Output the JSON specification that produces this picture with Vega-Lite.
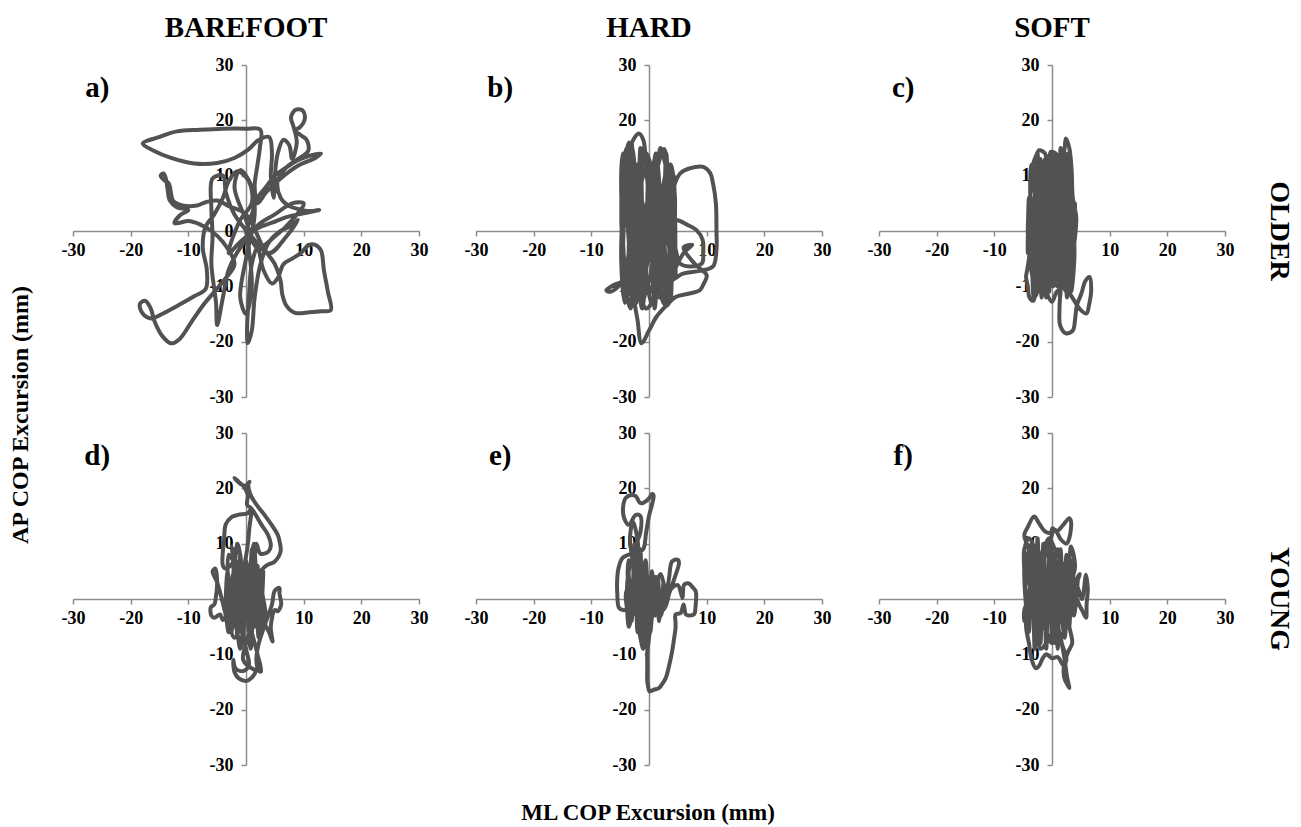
{
"$schema": "https://vega.github.io/schema/vega-lite/v6.json",
"background": "white",
"padding": {"left": 8, "top": 14, "right": 8, "bottom": 6},
"config": {"view": {"stroke": null}},
"data": {"values": [
{"p":"a","lab":"a)"},{"p":"b","lab":"b)"},{"p":"c","lab":"c)"},{"p":"d","lab":"d)"},{"p":"e","lab":"e)"},{"p":"f","lab":"f)"},
{"p":"a","x":0,"y":0},{"p":"a","x":1,"y":3},{"p":"a","x":2,"y":6},{"p":"a","x":3.5,"y":8},{"p":"a","x":5,"y":10},{"p":"a","x":7,"y":11.5},{"p":"a","x":9,"y":12.8},{"p":"a","x":11,"y":13.6},{"p":"a","x":13,"y":14},{"p":"a","x":12,"y":13.2},{"p":"a","x":9,"y":11.8},{"p":"a","x":6,"y":9.5},{"p":"a","x":3.5,"y":7},{"p":"a","x":2,"y":5},
{"p":"a","x":1.5,"y":8},{"p":"a","x":2,"y":12},{"p":"a","x":2.4,"y":15},{"p":"a","x":2.5,"y":18.3},{"p":"a","x":0,"y":18.5},{"p":"a","x":-4,"y":18.5},{"p":"a","x":-8,"y":18.3},{"p":"a","x":-12,"y":18},{"p":"a","x":-15,"y":17},{"p":"a","x":-17.9,"y":15.8},{"p":"a","x":-16,"y":14.5},{"p":"a","x":-13,"y":13.2},{"p":"a","x":-9,"y":12.2},{"p":"a","x":-5,"y":12.3},{"p":"a","x":-2,"y":13.2},{"p":"a","x":0.5,"y":14.8},{"p":"a","x":2,"y":16.3},{"p":"a","x":4,"y":17},
{"p":"a","x":4.5,"y":14},{"p":"a","x":4.3,"y":10},{"p":"a","x":4.8,"y":6},{"p":"a","x":5,"y":10},{"p":"a","x":5.5,"y":14},{"p":"a","x":6.5,"y":16.5},{"p":"a","x":7.5,"y":15.5},{"p":"a","x":8,"y":13},{"p":"a","x":8.8,"y":16},{"p":"a","x":8.2,"y":19},{"p":"a","x":7.8,"y":20.5},{"p":"a","x":8.6,"y":21.9},{"p":"a","x":9.8,"y":21.8},{"p":"a","x":10.2,"y":20.3},{"p":"a","x":9.3,"y":18.7},{"p":"a","x":8.5,"y":18.2},{"p":"a","x":9.5,"y":17.3},{"p":"a","x":10.5,"y":16.5},{"p":"a","x":10.8,"y":14.5},{"p":"a","x":9,"y":13},{"p":"a","x":7,"y":11.5},{"p":"a","x":5.5,"y":9},
{"p":"a","x":6,"y":6},{"p":"a","x":7.5,"y":4.5},{"p":"a","x":9,"y":4},{"p":"a","x":11,"y":3.6},{"p":"a","x":12.7,"y":3.8},{"p":"a","x":10,"y":3.2},{"p":"a","x":7,"y":2.5},{"p":"a","x":4.5,"y":1.5},{"p":"a","x":2,"y":0.5},
{"p":"a","x":-1,"y":-2},{"p":"a","x":-3,"y":-4},{"p":"a","x":-1,"y":2},{"p":"a","x":1,"y":5},{"p":"a","x":0.5,"y":9},{"p":"a","x":-1.5,"y":10.8},{"p":"a","x":-3,"y":9},{"p":"a","x":-4,"y":6},{"p":"a","x":-5.5,"y":3},{"p":"a","x":-7,"y":0.8},{"p":"a","x":-7.5,"y":-3},{"p":"a","x":-6.8,"y":-7},{"p":"a","x":-7,"y":-10.5},
{"p":"a","x":-9,"y":-11.8},{"p":"a","x":-11.5,"y":-13.3},{"p":"a","x":-14,"y":-14.7},{"p":"a","x":-16.5,"y":-15.8},{"p":"a","x":-18,"y":-14.8},{"p":"a","x":-18.4,"y":-13.2},{"p":"a","x":-17.5,"y":-12.6},{"p":"a","x":-16.6,"y":-13.8},{"p":"a","x":-15.8,"y":-16.5},{"p":"a","x":-14.5,"y":-19},{"p":"a","x":-13,"y":-20.3},{"p":"a","x":-11.5,"y":-19.5},{"p":"a","x":-9.5,"y":-16.5},{"p":"a","x":-7.5,"y":-13.5},{"p":"a","x":-5.5,"y":-11},{"p":"a","x":-3.5,"y":-8.5},{"p":"a","x":-2,"y":-6},
{"p":"a","x":-4,"y":-2},{"p":"a","x":-6,"y":0},{"p":"a","x":-8,"y":1.2},{"p":"a","x":-10,"y":1.8},{"p":"a","x":-11.5,"y":1.5},{"p":"a","x":-12.4,"y":1.4},{"p":"a","x":-11.5,"y":2.8},{"p":"a","x":-10,"y":3.8},{"p":"a","x":-12,"y":4.3},{"p":"a","x":-13.2,"y":5.5},{"p":"a","x":-13.6,"y":7.5},{"p":"a","x":-13.9,"y":9.5},{"p":"a","x":-14.3,"y":10.4},{"p":"a","x":-14.8,"y":10},{"p":"a","x":-14.2,"y":9.2},{"p":"a","x":-13.4,"y":8.6},{"p":"a","x":-12.6,"y":5.4},{"p":"a","x":-11,"y":4.6},{"p":"a","x":-8.5,"y":4.6},{"p":"a","x":-7,"y":5.2},{"p":"a","x":-5,"y":5.5},{"p":"a","x":-3,"y":4.5},{"p":"a","x":0,"y":3},
{"p":"a","x":3,"y":-3},{"p":"a","x":5,"y":-6},{"p":"a","x":6,"y":-9},{"p":"a","x":6.3,"y":-11.5},{"p":"a","x":7,"y":-13.5},{"p":"a","x":8.5,"y":-14.8},{"p":"a","x":11,"y":-14.7},{"p":"a","x":13,"y":-14.5},{"p":"a","x":14.7,"y":-14.3},{"p":"a","x":14.2,"y":-11},{"p":"a","x":13.5,"y":-7},{"p":"a","x":13,"y":-3.5},{"p":"a","x":12,"y":-2.5},{"p":"a","x":10.8,"y":-2.6},{"p":"a","x":9.5,"y":-4},{"p":"a","x":8,"y":-5},{"p":"a","x":6.5,"y":-6},{"p":"a","x":5.5,"y":-8.5},{"p":"a","x":4.5,"y":-9.5},{"p":"a","x":3,"y":-7},{"p":"a","x":2,"y":-3},
{"p":"a","x":1,"y":-6},{"p":"a","x":0.5,"y":-12},{"p":"a","x":0.2,"y":-17},{"p":"a","x":0.3,"y":-20.3},{"p":"a","x":1,"y":-18},{"p":"a","x":1.5,"y":-12},{"p":"a","x":2.5,"y":-6},{"p":"a","x":4,"y":-2},{"p":"a","x":6,"y":0},{"p":"a","x":8,"y":1},{"p":"a","x":9,"y":2},
{"p":"a","x":7,"y":-1},{"p":"a","x":4,"y":-4},{"p":"a","x":1,"y":-1},{"p":"a","x":-2,"y":3},{"p":"a","x":-3.5,"y":7},{"p":"a","x":-4,"y":10},{"p":"a","x":-5.8,"y":9.5},{"p":"a","x":-6,"y":4},{"p":"a","x":-5.8,"y":-1},{"p":"a","x":-6,"y":-6},{"p":"a","x":-5.2,"y":-13},{"p":"a","x":-5,"y":-17},{"p":"a","x":-4,"y":-12},{"p":"a","x":-3,"y":-7},{"p":"a","x":-1,"y":-3},{"p":"a","x":2,"y":1},{"p":"a","x":5,"y":3},{"p":"a","x":8,"y":5},{"p":"a","x":10,"y":5},{"p":"a","x":8,"y":2},{"p":"a","x":5,"y":-1},{"p":"a","x":2,"y":-3},{"p":"a","x":0,"y":2},{"p":"a","x":-2,"y":8},{"p":"a","x":-1,"y":11},{"p":"a","x":1,"y":8},{"p":"a","x":1.5,"y":3},{"p":"a","x":0,"y":-5},{"p":"a","x":-1,"y":-12},{"p":"a","x":0,"y":-15},{"p":"a","x":1,"y":-10},{"p":"a","x":0,"y":0},

{"p":"b","x":0,"y":0},{"p":"b","x":-2,"y":5},{"p":"b","x":-3.5,"y":10},{"p":"b","x":-4,"y":14},{"p":"b","x":-3,"y":16},{"p":"b","x":-1.8,"y":17.6},{"p":"b","x":-1,"y":16.5},{"p":"b","x":-0.5,"y":12},{"p":"b","x":0,"y":6},{"p":"b","x":1,"y":0},{"p":"b","x":2,"y":-6},{"p":"b","x":3,"y":-10},{"p":"b","x":3.5,"y":-6},{"p":"b","x":3.8,"y":2},{"p":"b","x":3.6,"y":8},{"p":"b","x":2.5,"y":13.4},{"p":"b","x":2,"y":15},{"p":"b","x":1.6,"y":13},{"p":"b","x":1,"y":8},{"p":"b","x":0,"y":2},{"p":"b","x":-1,"y":-4},{"p":"b","x":-2.5,"y":-10},{"p":"b","x":-3.5,"y":-13},{"p":"b","x":-4.2,"y":-10},{"p":"b","x":-4.5,"y":-4},{"p":"b","x":-4.8,"y":2},{"p":"b","x":-4.6,"y":8},{"p":"b","x":-4,"y":12},{"p":"b","x":-3,"y":15},{"p":"b","x":-2.5,"y":12},{"p":"b","x":-2,"y":6},{"p":"b","x":-1.5,"y":-1},{"p":"b","x":-0.5,"y":-8},{"p":"b","x":0.5,"y":-13},{"p":"b","x":1.5,"y":-10},{"p":"b","x":2.5,"y":-4},{"p":"b","x":3.5,"y":3},{"p":"b","x":4.5,"y":8.6},
{"p":"b","x":5.5,"y":10.5},{"p":"b","x":7,"y":11.3},{"p":"b","x":9.4,"y":11.6},{"p":"b","x":10.6,"y":10.5},{"p":"b","x":11.1,"y":8.6},{"p":"b","x":11.6,"y":5},{"p":"b","x":11.7,"y":0},{"p":"b","x":11.7,"y":-3.4},{"p":"b","x":11.1,"y":-6.4},{"p":"b","x":8.8,"y":-7.2},{"p":"b","x":5.9,"y":-7.7},{"p":"b","x":3.6,"y":-8.9},{"p":"b","x":2,"y":-7},{"p":"b","x":1,"y":-3},{"p":"b","x":2.5,"y":0.5},{"p":"b","x":4.7,"y":2},{"p":"b","x":6.5,"y":1.2},{"p":"b","x":8.2,"y":0.2},{"p":"b","x":9.3,"y":-1.6},{"p":"b","x":9.4,"y":-4},{"p":"b","x":9.2,"y":-5.8},{"p":"b","x":7,"y":-6.4},{"p":"b","x":5.3,"y":-5.8},{"p":"b","x":4.5,"y":-3},
{"p":"b","x":3,"y":-1},{"p":"b","x":1.5,"y":5},{"p":"b","x":0.5,"y":11},{"p":"b","x":-0.5,"y":14},{"p":"b","x":-1.5,"y":10},{"p":"b","x":-2.5,"y":3},{"p":"b","x":-3.5,"y":-4},{"p":"b","x":-4.5,"y":-9},{"p":"b","x":-5.5,"y":-9.5},{"p":"b","x":-6.5,"y":-10},{"p":"b","x":-7.4,"y":-10.7},{"p":"b","x":-6.8,"y":-11},{"p":"b","x":-5.5,"y":-10.2},{"p":"b","x":-4.2,"y":-8.5},{"p":"b","x":-3,"y":-3},{"p":"b","x":-2,"y":4},{"p":"b","x":-1,"y":10},{"p":"b","x":0,"y":12},{"p":"b","x":1,"y":6},{"p":"b","x":2,"y":-2},{"p":"b","x":3,"y":-9},{"p":"b","x":3.8,"y":-12},{"p":"b","x":3,"y":-13.5},{"p":"b","x":1.8,"y":-11},{"p":"b","x":0.5,"y":-5},{"p":"b","x":-0.5,"y":1},{"p":"b","x":-1.5,"y":7},{"p":"b","x":-2.8,"y":12},{"p":"b","x":-3.8,"y":15},{"p":"b","x":-4.3,"y":13},{"p":"b","x":-4,"y":6},{"p":"b","x":-3.5,"y":-2},{"p":"b","x":-3,"y":-9},{"p":"b","x":-2.5,"y":-13},{"p":"b","x":-2,"y":-16},{"p":"b","x":-1.3,"y":-20.3},{"p":"b","x":0,"y":-18},{"p":"b","x":1.3,"y":-15.5},{"p":"b","x":3,"y":-13.5},{"p":"b","x":4.7,"y":-11.9},{"p":"b","x":7,"y":-11.3},{"p":"b","x":8.8,"y":-10.7},{"p":"b","x":9.5,"y":-9.5},{"p":"b","x":10,"y":-8},
{"p":"b","x":8,"y":-6},{"p":"b","x":6,"y":-3},{"p":"b","x":7.5,"y":-2.5},{"p":"b","x":6,"y":-4},{"p":"b","x":4,"y":-8},{"p":"b","x":2,"y":-12},{"p":"b","x":0,"y":-10},{"p":"b","x":-1,"y":-4},{"p":"b","x":0,"y":3},{"p":"b","x":1,"y":9},{"p":"b","x":2,"y":13.5},{"p":"b","x":2.6,"y":14.8},{"p":"b","x":3.2,"y":12},{"p":"b","x":3.5,"y":6},{"p":"b","x":3,"y":0},{"p":"b","x":2.2,"y":-6},{"p":"b","x":1,"y":-12},{"p":"b","x":-0.5,"y":-14},{"p":"b","x":-2,"y":-8},{"p":"b","x":-3,"y":0},{"p":"b","x":-3.8,"y":6},{"p":"b","x":-4.5,"y":10},{"p":"b","x":-4.8,"y":4},{"p":"b","x":-4.5,"y":-3},{"p":"b","x":-3.8,"y":-12},{"p":"b","x":-3.2,"y":-14},{"p":"b","x":-2.5,"y":-10},{"p":"b","x":-1.5,"y":-3},{"p":"b","x":-0.5,"y":4},{"p":"b","x":0.5,"y":10},{"p":"b","x":1,"y":13},{"p":"b","x":1.5,"y":9},{"p":"b","x":2.5,"y":2},{"p":"b","x":3.5,"y":-3},{"p":"b","x":4.2,"y":-8},{"p":"b","x":4.5,"y":-4},{"p":"b","x":4.5,"y":3},{"p":"b","x":4,"y":9},{"p":"b","x":3.5,"y":12},{"p":"b","x":2.8,"y":10},{"p":"b","x":2,"y":4},{"p":"b","x":1,"y":-3},{"p":"b","x":0,"y":-9},{"p":"b","x":-1,"y":-12},{"p":"b","x":-2,"y":-6},{"p":"b","x":-2.8,"y":1},{"p":"b","x":-3.5,"y":8},{"p":"b","x":-4,"y":11},{"p":"b","x":-3.2,"y":5},{"p":"b","x":-2.5,"y":-2},{"p":"b","x":-1.5,"y":-8},{"p":"b","x":0,"y":-5},{"p":"b","x":0,"y":0},
{"p":"b","x":-4.5,"y":14},{"p":"b","x":-3.8,"y":-12},{"p":"b","x":-3,"y":16},{"p":"b","x":-2.2,"y":-13},{"p":"b","x":-1.5,"y":15},{"p":"b","x":-0.8,"y":-12},{"p":"b","x":0,"y":13},{"p":"b","x":0.8,"y":-11},{"p":"b","x":1.5,"y":12},{"p":"b","x":2.2,"y":-10},{"p":"b","x":3,"y":14},{"p":"b","x":3.8,"y":-12},{"p":"b","x":4.3,"y":10},{"p":"b","x":4.6,"y":-8},{"p":"b","x":4,"y":4},{"p":"b","x":3,"y":-13},{"p":"b","x":2,"y":8},{"p":"b","x":1,"y":-14},{"p":"b","x":0,"y":10},{"p":"b","x":-1,"y":-13},{"p":"b","x":-2,"y":12},{"p":"b","x":-3,"y":-12},{"p":"b","x":-4,"y":9},{"p":"b","x":-4.6,"y":-6},{"p":"b","x":-4.2,"y":12},{"p":"b","x":-3.5,"y":16},{"p":"b","x":-2.8,"y":8},{"p":"b","x":-2,"y":-6},{"p":"b","x":-1.2,"y":-14},{"p":"b","x":-0.4,"y":-6},{"p":"b","x":0.4,"y":6},{"p":"b","x":1.2,"y":14},{"p":"b","x":2,"y":6},{"p":"b","x":2.8,"y":-4},{"p":"b","x":3.6,"y":-12},{"p":"b","x":4.2,"y":-4},{"p":"b","x":4.5,"y":6},{"p":"b","x":3.8,"y":12},{"p":"b","x":3,"y":6},{"p":"b","x":2.2,"y":-3},{"p":"b","x":1.4,"y":-11},{"p":"b","x":0.6,"y":-3},{"p":"b","x":-0.2,"y":8},{"p":"b","x":-1,"y":15},{"p":"b","x":-1.8,"y":9},{"p":"b","x":-2.6,"y":0},{"p":"b","x":-3.4,"y":-8},{"p":"b","x":-4.2,"y":-13},{"p":"b","x":-4.8,"y":-6},{"p":"b","x":-4.6,"y":3},{"p":"b","x":-3.9,"y":11},{"p":"b","x":-3.1,"y":4},{"p":"b","x":-2.3,"y":-4},{"p":"b","x":-1.5,"y":-10},{"p":"b","x":-0.7,"y":-2},{"p":"b","x":0.1,"y":7},{"p":"b","x":0.9,"y":1},{"p":"b","x":1.7,"y":-7},{"p":"b","x":2.5,"y":-13},{"p":"b","x":3.3,"y":-7},{"p":"b","x":4.1,"y":1},{"p":"b","x":4.4,"y":9},

{"p":"c","x":0,"y":0},{"p":"c","x":-2,"y":4},{"p":"c","x":-3,"y":8},{"p":"c","x":-3.5,"y":11},{"p":"c","x":-2.8,"y":13.5},{"p":"c","x":-2.2,"y":14.6},{"p":"c","x":-1.2,"y":14},{"p":"c","x":-0.8,"y":10},{"p":"c","x":-0.2,"y":14.3},{"p":"c","x":0.8,"y":13.8},{"p":"c","x":1.2,"y":9},{"p":"c","x":1.8,"y":12},{"p":"c","x":2.2,"y":15},{"p":"c","x":2.4,"y":16.7},{"p":"c","x":3,"y":15},{"p":"c","x":3.4,"y":11},{"p":"c","x":3.6,"y":6},{"p":"c","x":4.2,"y":2.5},{"p":"c","x":4,"y":-1},{"p":"c","x":3.5,"y":-5},{"p":"c","x":3,"y":-9},{"p":"c","x":2.5,"y":-11},{"p":"c","x":1.5,"y":-8},{"p":"c","x":0.5,"y":-3},{"p":"c","x":-0.5,"y":2},{"p":"c","x":-1.5,"y":8},{"p":"c","x":-2.5,"y":10},{"p":"c","x":-3.5,"y":8},{"p":"c","x":-4,"y":4},{"p":"c","x":-4.2,"y":0},{"p":"c","x":-3.9,"y":-4},{"p":"c","x":-4.3,"y":-7},{"p":"c","x":-4.5,"y":-8.3},{"p":"c","x":-4.2,"y":-10},{"p":"c","x":-3.9,"y":-12},{"p":"c","x":-3.2,"y":-12.6},{"p":"c","x":-2.8,"y":-10},{"p":"c","x":-2,"y":-7},{"p":"c","x":-1,"y":-11},{"p":"c","x":0,"y":-12.8},{"p":"c","x":0.8,"y":-11},{"p":"c","x":1.3,"y":-10.7},{"p":"c","x":1.3,"y":-14},{"p":"c","x":1.4,"y":-17},{"p":"c","x":2.4,"y":-18.5},{"p":"c","x":3.6,"y":-18},{"p":"c","x":4,"y":-16},{"p":"c","x":4.3,"y":-13.5},{"p":"c","x":5.1,"y":-11.3},{"p":"c","x":5.8,"y":-9},{"p":"c","x":6.5,"y":-8.3},{"p":"c","x":6.8,"y":-10.5},{"p":"c","x":6.4,"y":-13.5},{"p":"c","x":6,"y":-14.9},{"p":"c","x":5,"y":-14.3},{"p":"c","x":3.8,"y":-12.5},{"p":"c","x":3,"y":-11},{"p":"c","x":2.5,"y":-8},{"p":"c","x":3,"y":-3},{"p":"c","x":3.4,"y":3},{"p":"c","x":3.3,"y":8},{"p":"c","x":2.8,"y":12},{"p":"c","x":2,"y":10},{"p":"c","x":1.2,"y":5},{"p":"c","x":0.5,"y":0},{"p":"c","x":-0.5,"y":-5},{"p":"c","x":-1.8,"y":-9},{"p":"c","x":-3,"y":-12},{"p":"c","x":-2.5,"y":-8},{"p":"c","x":-1.5,"y":-2},{"p":"c","x":-0.5,"y":5},{"p":"c","x":0.3,"y":10},{"p":"c","x":0.8,"y":13},{"p":"c","x":1.5,"y":8},{"p":"c","x":2.2,"y":2},{"p":"c","x":3,"y":-4},{"p":"c","x":3.5,"y":-8},{"p":"c","x":2.8,"y":-6},{"p":"c","x":2,"y":0},{"p":"c","x":1.2,"y":6},{"p":"c","x":0.5,"y":11},{"p":"c","x":-0.5,"y":13},{"p":"c","x":-1.8,"y":11},{"p":"c","x":-2.8,"y":6},{"p":"c","x":-3.5,"y":1},{"p":"c","x":-3.8,"y":-4},{"p":"c","x":-3.2,"y":-9},{"p":"c","x":-2,"y":-11},{"p":"c","x":-1,"y":-6},{"p":"c","x":0,"y":1},{"p":"c","x":1,"y":7},{"p":"c","x":2,"y":11},{"p":"c","x":2.8,"y":14},{"p":"c","x":3.3,"y":10},{"p":"c","x":3.5,"y":3},{"p":"c","x":3,"y":-2},{"p":"c","x":2,"y":-7},{"p":"c","x":1,"y":-10},{"p":"c","x":0,"y":-8},{"p":"c","x":-1,"y":-3},{"p":"c","x":-2,"y":3},{"p":"c","x":-3,"y":9},{"p":"c","x":-2,"y":12},{"p":"c","x":-1,"y":8},{"p":"c","x":0,"y":2},{"p":"c","x":1,"y":-4},{"p":"c","x":2,"y":-9},{"p":"c","x":2.5,"y":-5},{"p":"c","x":2,"y":2},{"p":"c","x":1,"y":9},{"p":"c","x":0,"y":4},{"p":"c","x":-1,"y":-2},{"p":"c","x":-2,"y":-6},{"p":"c","x":-3,"y":-2},{"p":"c","x":-3.5,"y":4},{"p":"c","x":-2.5,"y":7},{"p":"c","x":-1,"y":3},{"p":"c","x":0,"y":0},
{"p":"c","x":-3.5,"y":12},{"p":"c","x":-3,"y":-10},{"p":"c","x":-2.5,"y":14},{"p":"c","x":-1.8,"y":-12},{"p":"c","x":-1.2,"y":13},{"p":"c","x":-0.5,"y":-11},{"p":"c","x":0.2,"y":14},{"p":"c","x":0.8,"y":-9},{"p":"c","x":1.5,"y":15},{"p":"c","x":2.2,"y":-10},{"p":"c","x":2.8,"y":13},{"p":"c","x":3.5,"y":-8},{"p":"c","x":4,"y":5},{"p":"c","x":3.6,"y":-6},{"p":"c","x":3.2,"y":11},{"p":"c","x":2.6,"y":-12},{"p":"c","x":2,"y":9},{"p":"c","x":1.4,"y":-12},{"p":"c","x":0.8,"y":11},{"p":"c","x":0.2,"y":-10},{"p":"c","x":-0.4,"y":12},{"p":"c","x":-1,"y":-12},{"p":"c","x":-1.6,"y":10},{"p":"c","x":-2.2,"y":-9},{"p":"c","x":-2.8,"y":11},{"p":"c","x":-3.4,"y":-7},{"p":"c","x":-4,"y":6},{"p":"c","x":-4.2,"y":-4},{"p":"c","x":-3.8,"y":3},{"p":"c","x":-3.2,"y":-12},{"p":"c","x":-2.6,"y":6},{"p":"c","x":-2,"y":13},{"p":"c","x":-1.4,"y":2},{"p":"c","x":-0.8,"y":-8},{"p":"c","x":-0.2,"y":4},{"p":"c","x":0.4,"y":12},{"p":"c","x":1,"y":3},{"p":"c","x":1.6,"y":-6},{"p":"c","x":2.2,"y":4},{"p":"c","x":2.8,"y":12},{"p":"c","x":3.4,"y":4},{"p":"c","x":3.9,"y":-4},{"p":"c","x":3.3,"y":-11},{"p":"c","x":2.7,"y":-3},{"p":"c","x":2.1,"y":8},{"p":"c","x":1.5,"y":14},

{"p":"d","x":0,"y":0},{"p":"d","x":-1,"y":4},{"p":"d","x":-2,"y":7},{"p":"d","x":-2.5,"y":9.5},{"p":"d","x":-2,"y":6},{"p":"d","x":-1.5,"y":2},{"p":"d","x":-1,"y":-2},{"p":"d","x":-0.5,"y":-6},{"p":"d","x":0,"y":-9},{"p":"d","x":0.5,"y":-12},{"p":"d","x":-0.5,"y":-13},{"p":"d","x":-1.8,"y":-12.6},{"p":"d","x":-2.2,"y":-11},{"p":"d","x":-2,"y":-13.2},{"p":"d","x":-1.3,"y":-14.3},{"p":"d","x":0,"y":-14.8},{"p":"d","x":1,"y":-14.2},{"p":"d","x":1.6,"y":-13},{"p":"d","x":0.5,"y":-12.2},{"p":"d","x":-0.5,"y":-11},{"p":"d","x":0,"y":-8},{"p":"d","x":1,"y":-5},{"p":"d","x":2,"y":-2},{"p":"d","x":2.5,"y":2},{"p":"d","x":2.6,"y":5},{"p":"d","x":3.8,"y":6.2},{"p":"d","x":4.9,"y":6.7},{"p":"d","x":6,"y":8.6},{"p":"d","x":5.8,"y":10.5},{"p":"d","x":5.5,"y":11.6},{"p":"d","x":4.5,"y":13.3},{"p":"d","x":3.2,"y":15.2},{"p":"d","x":2,"y":16.8},{"p":"d","x":0.8,"y":18.8},{"p":"d","x":0.4,"y":20.7},{"p":"d","x":0.6,"y":21.2},{"p":"d","x":0,"y":20.5},{"p":"d","x":-0.8,"y":20.7},{"p":"d","x":-1.5,"y":21.3},{"p":"d","x":-2,"y":21.9},{"p":"d","x":-1.3,"y":21.2},{"p":"d","x":-0.3,"y":20.2},{"p":"d","x":0.3,"y":18.8},{"p":"d","x":0.2,"y":17},{"p":"d","x":0.9,"y":16.4},{"p":"d","x":1.8,"y":15},{"p":"d","x":2.7,"y":13.4},{"p":"d","x":3.8,"y":11.6},{"p":"d","x":4.3,"y":9.6},{"p":"d","x":3.8,"y":8.5},{"p":"d","x":2.5,"y":8.2},{"p":"d","x":1.8,"y":10},{"p":"d","x":1.5,"y":7},{"p":"d","x":1.2,"y":3},
{"p":"d","x":0.5,"y":-1},{"p":"d","x":-0.5,"y":3},{"p":"d","x":-1,"y":8},{"p":"d","x":-1.5,"y":10},{"p":"d","x":-2,"y":7},{"p":"d","x":-3.5,"y":5.5},{"p":"d","x":-4,"y":6},{"p":"d","x":-3.8,"y":10.8},{"p":"d","x":-3.5,"y":13.5},{"p":"d","x":-2.5,"y":14.8},{"p":"d","x":-1.4,"y":15.2},{"p":"d","x":0.3,"y":15.5},{"p":"d","x":0.9,"y":16.2},
{"p":"d","x":0.6,"y":13},{"p":"d","x":0.2,"y":9},{"p":"d","x":-0.5,"y":5},{"p":"d","x":-1.5,"y":1},{"p":"d","x":-2.5,"y":-3},{"p":"d","x":-3,"y":-6},{"p":"d","x":-3.5,"y":-3},{"p":"d","x":-4.2,"y":0},{"p":"d","x":-5,"y":3},{"p":"d","x":-5.8,"y":5},{"p":"d","x":-5.3,"y":5.5},{"p":"d","x":-5,"y":3},{"p":"d","x":-5.2,"y":0.5},{"p":"d","x":-5.5,"y":-1},{"p":"d","x":-6.1,"y":-1.5},{"p":"d","x":-6,"y":-3},{"p":"d","x":-5.5,"y":-3.4},{"p":"d","x":-4.5,"y":-2.8},{"p":"d","x":-4,"y":-3.8},{"p":"d","x":-3,"y":-2},{"p":"d","x":-2,"y":1},{"p":"d","x":-1,"y":4},{"p":"d","x":0,"y":6},{"p":"d","x":1,"y":3},{"p":"d","x":2,"y":-1},{"p":"d","x":3,"y":-4},{"p":"d","x":4,"y":-6},{"p":"d","x":4.6,"y":-7.7},{"p":"d","x":4.3,"y":-5},{"p":"d","x":5,"y":-2},{"p":"d","x":5.5,"y":-2.2},{"p":"d","x":6.1,"y":-1},{"p":"d","x":5.8,"y":1},{"p":"d","x":5.8,"y":2},{"p":"d","x":5,"y":1.5},{"p":"d","x":4.5,"y":-1},{"p":"d","x":3.5,"y":-4},{"p":"d","x":2.5,"y":-7},{"p":"d","x":2,"y":-9},{"p":"d","x":1.8,"y":-11},{"p":"d","x":2.2,"y":-13},{"p":"d","x":2.6,"y":-13.1},{"p":"d","x":2,"y":-10},{"p":"d","x":1,"y":-6},{"p":"d","x":0,"y":-2},{"p":"d","x":-1,"y":2},{"p":"d","x":-2,"y":5},{"p":"d","x":-2.5,"y":2},{"p":"d","x":-2,"y":-3},{"p":"d","x":-1.5,"y":-6},{"p":"d","x":-1,"y":-9},{"p":"d","x":-0.5,"y":-5},{"p":"d","x":0,"y":0},{"p":"d","x":0.5,"y":4},{"p":"d","x":1,"y":8},{"p":"d","x":1.4,"y":10},{"p":"d","x":1.7,"y":6},{"p":"d","x":2.4,"y":3},{"p":"d","x":3,"y":0},{"p":"d","x":3.4,"y":-3},{"p":"d","x":3,"y":-5},{"p":"d","x":2,"y":-2},{"p":"d","x":1,"y":1},{"p":"d","x":-0.5,"y":-3},{"p":"d","x":-2,"y":-7},{"p":"d","x":-3,"y":-4},{"p":"d","x":-3.5,"y":0},{"p":"d","x":-3,"y":3},{"p":"d","x":-2,"y":1},{"p":"d","x":-1,"y":-1},{"p":"d","x":0,"y":0},
{"p":"d","x":-3,"y":8},{"p":"d","x":-2.5,"y":-6},{"p":"d","x":-2,"y":9},{"p":"d","x":-1.5,"y":-7},{"p":"d","x":-1,"y":8},{"p":"d","x":-0.5,"y":-8},{"p":"d","x":0,"y":7},{"p":"d","x":0.5,"y":-6},{"p":"d","x":1,"y":9},{"p":"d","x":1.5,"y":-5},{"p":"d","x":2,"y":6},{"p":"d","x":2.5,"y":-4},{"p":"d","x":3,"y":5},{"p":"d","x":2.2,"y":-7},{"p":"d","x":1.6,"y":4},{"p":"d","x":0.8,"y":-9},{"p":"d","x":0,"y":5},{"p":"d","x":-0.8,"y":-6},{"p":"d","x":-1.6,"y":6},{"p":"d","x":-2.4,"y":-4},{"p":"d","x":-3.2,"y":5},{"p":"d","x":-3.5,"y":-2},{"p":"d","x":-2.8,"y":2},{"p":"d","x":-2,"y":-5},{"p":"d","x":-1.2,"y":7},{"p":"d","x":-0.4,"y":-3},{"p":"d","x":0.4,"y":4},{"p":"d","x":1.2,"y":-2},{"p":"d","x":2,"y":3},{"p":"d","x":2.8,"y":-3},

{"p":"e","x":0,"y":0},{"p":"e","x":-1,"y":3},{"p":"e","x":-2,"y":6},{"p":"e","x":-2.5,"y":9},{"p":"e","x":-1.5,"y":12},{"p":"e","x":-1.5,"y":15},{"p":"e","x":-2.3,"y":15.2},{"p":"e","x":-3.5,"y":13.4},{"p":"e","x":-4.3,"y":14.6},{"p":"e","x":-4.5,"y":16.5},{"p":"e","x":-4,"y":18.3},{"p":"e","x":-3,"y":18.8},{"p":"e","x":-2.3,"y":18.6},{"p":"e","x":-1.6,"y":17.4},{"p":"e","x":-1.2,"y":17.3},{"p":"e","x":-0.5,"y":17.7},{"p":"e","x":0,"y":18.2},{"p":"e","x":0.6,"y":19},{"p":"e","x":0.8,"y":18.6},{"p":"e","x":0.5,"y":17},{"p":"e","x":0,"y":15},{"p":"e","x":-0.5,"y":12},{"p":"e","x":-1,"y":9},{"p":"e","x":-1.7,"y":8.6},{"p":"e","x":-3,"y":8.2},{"p":"e","x":-4.6,"y":7.4},{"p":"e","x":-5.3,"y":5.5},{"p":"e","x":-5.5,"y":3.8},{"p":"e","x":-5.5,"y":1},{"p":"e","x":-5.2,"y":-1.6},{"p":"e","x":-4.5,"y":-2},{"p":"e","x":-4,"y":-1.9},{"p":"e","x":-3.5,"y":-0.5},{"p":"e","x":-3.8,"y":2},{"p":"e","x":-3.5,"y":5},{"p":"e","x":-3,"y":7},{"p":"e","x":-2.5,"y":4},{"p":"e","x":-2,"y":0},{"p":"e","x":-1.5,"y":-3},{"p":"e","x":-1,"y":-6},{"p":"e","x":-0.5,"y":-8},{"p":"e","x":0,"y":-5},{"p":"e","x":0.5,"y":-2},{"p":"e","x":1,"y":1},{"p":"e","x":1.5,"y":3.5},{"p":"e","x":2,"y":4.5},{"p":"e","x":2.5,"y":3},{"p":"e","x":3,"y":1},{"p":"e","x":3.5,"y":4},{"p":"e","x":4,"y":6.8},{"p":"e","x":5,"y":7.1},{"p":"e","x":5.2,"y":6.5},{"p":"e","x":4.5,"y":4},{"p":"e","x":3.5,"y":1},{"p":"e","x":3,"y":-1},{"p":"e","x":2.5,"y":-2},{"p":"e","x":3,"y":0},{"p":"e","x":4,"y":2},{"p":"e","x":5,"y":2.5},{"p":"e","x":5.8,"y":0.2},{"p":"e","x":6.1,"y":2.6},{"p":"e","x":6.9,"y":2.8},{"p":"e","x":7.5,"y":2.2},{"p":"e","x":8.1,"y":1.4},{"p":"e","x":8.1,"y":-1},{"p":"e","x":7.8,"y":-2.8},{"p":"e","x":7,"y":-3},{"p":"e","x":6.4,"y":-2.8},{"p":"e","x":6,"y":-1},{"p":"e","x":5.5,"y":-2.5},{"p":"e","x":4.6,"y":-2.8},{"p":"e","x":4.6,"y":-4.2},{"p":"e","x":4.6,"y":-5.2},{"p":"e","x":4.3,"y":-7.5},{"p":"e","x":4,"y":-9.5},{"p":"e","x":3.5,"y":-12},{"p":"e","x":2.9,"y":-14.3},{"p":"e","x":2.2,"y":-15.5},{"p":"e","x":1.7,"y":-16.1},{"p":"e","x":0.8,"y":-16.4},{"p":"e","x":0.1,"y":-16.7},{"p":"e","x":-0.2,"y":-15.5},{"p":"e","x":-0.3,"y":-14.9},{"p":"e","x":-0.3,"y":-12},{"p":"e","x":-0.3,"y":-9.5},{"p":"e","x":0,"y":-7},{"p":"e","x":0.2,"y":-4.6},{"p":"e","x":-0.5,"y":-2},{"p":"e","x":-1.5,"y":2},{"p":"e","x":-2.5,"y":5},{"p":"e","x":-3,"y":8},{"p":"e","x":-3.3,"y":11},{"p":"e","x":-2.8,"y":14},{"p":"e","x":-2.2,"y":12},{"p":"e","x":-1.8,"y":8},{"p":"e","x":-2,"y":4},{"p":"e","x":-2.5,"y":0},{"p":"e","x":-3,"y":-3},{"p":"e","x":-3.5,"y":-5},{"p":"e","x":-3.8,"y":-2},{"p":"e","x":-4,"y":1},{"p":"e","x":-3.2,"y":3},{"p":"e","x":-2.5,"y":-1},{"p":"e","x":-2,"y":-4},{"p":"e","x":-1.5,"y":-7},{"p":"e","x":-1,"y":-9},{"p":"e","x":-0.5,"y":-6},{"p":"e","x":0,"y":-3},{"p":"e","x":0.5,"y":0},{"p":"e","x":1,"y":2},{"p":"e","x":1.5,"y":0},{"p":"e","x":2,"y":-2},{"p":"e","x":2.5,"y":0},{"p":"e","x":3,"y":2},{"p":"e","x":2.5,"y":-1},{"p":"e","x":2,"y":-3},{"p":"e","x":1.5,"y":-1},{"p":"e","x":1,"y":0},{"p":"e","x":0,"y":3},{"p":"e","x":-1,"y":6},{"p":"e","x":-1.5,"y":3},{"p":"e","x":-1.2,"y":0},{"p":"e","x":-0.8,"y":-3},{"p":"e","x":-0.5,"y":0},{"p":"e","x":0,"y":0},
{"p":"e","x":-3.5,"y":7},{"p":"e","x":-3,"y":-4},{"p":"e","x":-2.5,"y":10},{"p":"e","x":-2,"y":-6},{"p":"e","x":-1.5,"y":9},{"p":"e","x":-1,"y":-8},{"p":"e","x":-0.5,"y":6},{"p":"e","x":0,"y":-7},{"p":"e","x":0.5,"y":5},{"p":"e","x":1,"y":-3},{"p":"e","x":1.5,"y":4},{"p":"e","x":2,"y":-2},{"p":"e","x":2.5,"y":3},{"p":"e","x":1.8,"y":-4},{"p":"e","x":1,"y":4},{"p":"e","x":0.2,"y":-6},{"p":"e","x":-0.6,"y":7},{"p":"e","x":-1.4,"y":-5},{"p":"e","x":-2.2,"y":8},{"p":"e","x":-3,"y":-3},{"p":"e","x":-3.6,"y":5},{"p":"e","x":-3,"y":0},{"p":"e","x":-2.2,"y":-3},{"p":"e","x":-1.4,"y":4},{"p":"e","x":-0.6,"y":-2},{"p":"e","x":0.2,"y":2},

{"p":"f","x":0,"y":0},{"p":"f","x":-2,"y":3},{"p":"f","x":-3,"y":6},{"p":"f","x":-4,"y":9},{"p":"f","x":-4.8,"y":11.6},{"p":"f","x":-4.2,"y":13},{"p":"f","x":-3.1,"y":14.9},{"p":"f","x":-2.2,"y":13.6},{"p":"f","x":-1.2,"y":12.2},{"p":"f","x":-0.2,"y":12},{"p":"f","x":0.1,"y":12.8},{"p":"f","x":0.8,"y":12.2},{"p":"f","x":1.8,"y":13.2},{"p":"f","x":3,"y":14.6},{"p":"f","x":3.3,"y":14},{"p":"f","x":3,"y":11},{"p":"f","x":2.5,"y":10},{"p":"f","x":1.5,"y":10.8},{"p":"f","x":0.5,"y":12.5},{"p":"f","x":-0.5,"y":10},{"p":"f","x":-1.5,"y":7},{"p":"f","x":-2.5,"y":4},{"p":"f","x":-3.5,"y":1},{"p":"f","x":-4.8,"y":-2},{"p":"f","x":-4.8,"y":-4},{"p":"f","x":-4.5,"y":0},{"p":"f","x":-4.8,"y":5},{"p":"f","x":-4.8,"y":9},{"p":"f","x":-4,"y":11},{"p":"f","x":-3,"y":9},{"p":"f","x":-2,"y":5},{"p":"f","x":-1,"y":1},{"p":"f","x":0,"y":-3},{"p":"f","x":1,"y":-6},{"p":"f","x":2,"y":-9},{"p":"f","x":2.5,"y":-11},{"p":"f","x":2,"y":-12},{"p":"f","x":1,"y":-10.5},{"p":"f","x":0,"y":-10.7},{"p":"f","x":-1,"y":-10},{"p":"f","x":-1.6,"y":-10.7},{"p":"f","x":-2.2,"y":-12},{"p":"f","x":-2.8,"y":-12.5},{"p":"f","x":-3.5,"y":-11},{"p":"f","x":-4,"y":-8},{"p":"f","x":-4.5,"y":-5},{"p":"f","x":-4.3,"y":-2},{"p":"f","x":-3.5,"y":2},{"p":"f","x":-2.5,"y":6},{"p":"f","x":-1.5,"y":9},{"p":"f","x":-0.5,"y":11},{"p":"f","x":0.5,"y":9},{"p":"f","x":1.5,"y":7},{"p":"f","x":2.5,"y":5},{"p":"f","x":3.5,"y":4},{"p":"f","x":4.5,"y":2},{"p":"f","x":5.2,"y":0},{"p":"f","x":5.9,"y":4.4},{"p":"f","x":6.2,"y":2},{"p":"f","x":6.2,"y":1.4},{"p":"f","x":6,"y":-1},{"p":"f","x":5.9,"y":-3.4},{"p":"f","x":5.2,"y":-2},{"p":"f","x":4.7,"y":-1},{"p":"f","x":4,"y":1},{"p":"f","x":3.5,"y":3},{"p":"f","x":4,"y":6},{"p":"f","x":3.3,"y":9.5},{"p":"f","x":3,"y":7},{"p":"f","x":2.5,"y":3},{"p":"f","x":2,"y":0},{"p":"f","x":1,"y":-3},{"p":"f","x":0,"y":-6},{"p":"f","x":-1,"y":-8},{"p":"f","x":-2,"y":-9},{"p":"f","x":-2.5,"y":-6},{"p":"f","x":-2,"y":-2},{"p":"f","x":-1,"y":2},{"p":"f","x":0,"y":6},{"p":"f","x":1,"y":9},{"p":"f","x":1.5,"y":6},{"p":"f","x":2,"y":2},{"p":"f","x":2.5,"y":-2},{"p":"f","x":3,"y":-5},{"p":"f","x":3.5,"y":-8},{"p":"f","x":2.8,"y":-9.5},{"p":"f","x":2.2,"y":-11.5},{"p":"f","x":2,"y":-13},{"p":"f","x":2.2,"y":-14.5},{"p":"f","x":2.7,"y":-15.5},{"p":"f","x":3,"y":-16.1},{"p":"f","x":2.6,"y":-14},{"p":"f","x":2.2,"y":-11},{"p":"f","x":1.5,"y":-7},{"p":"f","x":0.5,"y":-3},{"p":"f","x":-0.5,"y":1},{"p":"f","x":-1.5,"y":5},{"p":"f","x":-2.5,"y":8},{"p":"f","x":-3.5,"y":10},{"p":"f","x":-4.2,"y":7},{"p":"f","x":-4,"y":3},{"p":"f","x":-3,"y":0},{"p":"f","x":-2,"y":-3},{"p":"f","x":-1,"y":-6},{"p":"f","x":0,"y":-8},{"p":"f","x":1,"y":-5},{"p":"f","x":2,"y":-2},{"p":"f","x":3,"y":1},{"p":"f","x":4,"y":3},{"p":"f","x":4.8,"y":4.5},{"p":"f","x":4,"y":2},{"p":"f","x":3,"y":-2},{"p":"f","x":2,"y":-6},{"p":"f","x":1,"y":-8},{"p":"f","x":0,"y":-4},{"p":"f","x":-1,"y":0},{"p":"f","x":-2,"y":3},{"p":"f","x":-3,"y":6},{"p":"f","x":-3.5,"y":3},{"p":"f","x":-3,"y":-1},{"p":"f","x":-2,"y":-4},{"p":"f","x":-1,"y":-2},{"p":"f","x":0,"y":0},
{"p":"f","x":-4.5,"y":8},{"p":"f","x":-4,"y":-6},{"p":"f","x":-3.5,"y":10},{"p":"f","x":-3,"y":-9},{"p":"f","x":-2.5,"y":11},{"p":"f","x":-2,"y":-8},{"p":"f","x":-1.5,"y":10},{"p":"f","x":-1,"y":-9},{"p":"f","x":-0.5,"y":9},{"p":"f","x":0,"y":-7},{"p":"f","x":0.5,"y":8},{"p":"f","x":1,"y":-9},{"p":"f","x":1.5,"y":9},{"p":"f","x":2,"y":-6},{"p":"f","x":2.5,"y":8},{"p":"f","x":3,"y":-5},{"p":"f","x":3.5,"y":7},{"p":"f","x":4,"y":-2},{"p":"f","x":4.5,"y":4},{"p":"f","x":3.8,"y":-3},{"p":"f","x":3,"y":6},{"p":"f","x":2.2,"y":-7},{"p":"f","x":1.4,"y":8},{"p":"f","x":0.6,"y":-8},{"p":"f","x":-0.2,"y":10},{"p":"f","x":-1,"y":-5},{"p":"f","x":-1.8,"y":7},{"p":"f","x":-2.6,"y":-6},{"p":"f","x":-3.4,"y":8},{"p":"f","x":-4.2,"y":-3},{"p":"f","x":-4.7,"y":4},{"p":"f","x":-4,"y":9}
]},
"transform": [
{"lookup": "p", "from": {"data": {"values": [
{"p":"a","shoe":"BAREFOOT","group":"OLDER"},{"p":"b","shoe":"HARD","group":"OLDER"},{"p":"c","shoe":"SOFT","group":"OLDER"},
{"p":"d","shoe":"BAREFOOT","group":"YOUNG"},{"p":"e","shoe":"HARD","group":"YOUNG"},{"p":"f","shoe":"SOFT","group":"YOUNG"}]}, "key": "p", "fields": ["shoe","group"]}}
],
"facet": {
"column": {"field": "shoe", "type": "nominal", "sort": ["BAREFOOT","HARD","SOFT"], "title": "ML COP Excursion (mm)",
 "header": {"labelOrient": "top", "titleOrient": "bottom", "labelFont": "Liberation Serif", "labelFontSize": 29, "labelFontWeight": "bold", "labelColor": "black", "labelPadding": 22,
 "titleFont": "Liberation Serif", "titleFontSize": 23, "titleFontWeight": "bold", "titleColor": "black", "titlePadding": 27}},
"row": {"field": "group", "type": "nominal", "sort": ["OLDER","YOUNG"], "title": "AP COP Excursion (mm)",
 "header": {"labelOrient": "right", "titleOrient": "left", "labelAngle": 90, "labelFont": "Liberation Serif", "labelFontSize": 28, "labelFontWeight": "bold", "labelColor": "black", "labelPadding": 40,
 "titleFont": "Liberation Serif", "titleFontSize": 24, "titleFontWeight": "bold", "titleColor": "black", "titlePadding": 30}}
},
"spacing": {"row": 36, "column": 57},
"bounds": "flush",
"resolve": {"axis": {"x": "independent", "y": "independent"}},
"spec": {
"width": 346, "height": 332,
"layer": [
{"transform": [{"filter": "isValid(datum.x)"}],
 "mark": {"type": "line", "color": "#525252", "strokeWidth": 4, "interpolate": "catmull-rom", "strokeJoin": "round", "strokeCap": "round"},
 "encoding": {
 "x": {"field": "x", "type": "quantitative", "scale": {"domain": [-30, 30], "nice": false, "zero": false},
  "axis": {"orient": "bottom", "offset": -166, "values": [-30,-20,-10,0,10,20,30], "labelExpr": "datum.value < 0 ? '-' + abs(datum.value) : '' + datum.value", "title": null, "grid": false, "domainColor": "#8c8c8c", "domainWidth": 1.5, "tickColor": "#8c8c8c", "tickWidth": 1.5, "tickSize": 5, "labelFont": "Liberation Serif", "labelFontWeight": "bold", "labelFontSize": 18, "labelColor": "black", "labelPadding": 5, "labelFlush": false, "labelOverlap": false, "labelBound": false}},
 "y": {"field": "y", "type": "quantitative", "scale": {"domain": [-30, 30], "nice": false, "zero": false},
  "axis": {"orient": "left", "offset": -173, "values": [-30,-20,-10,0,10,20,30], "labelExpr": "datum.value < 0 ? '-' + abs(datum.value) : '' + datum.value", "title": null, "grid": false, "domainColor": "#8c8c8c", "domainWidth": 1.5, "tickColor": "#8c8c8c", "tickWidth": 1.5, "tickSize": 5, "labelFont": "Liberation Serif", "labelFontWeight": "bold", "labelFontSize": 18, "labelColor": "black", "labelPadding": 8, "labelFlush": false, "labelOverlap": false, "labelBound": false}},
 "order": {"value": null}
 }},
{"transform": [{"filter": "isValid(datum.lab)"}],
 "mark": {"type": "text", "font": "Liberation Serif", "fontSize": 29, "fontWeight": "bold", "color": "black", "align": "center", "baseline": "alphabetic"},
 "encoding": {
 "x": {"datum": -25.8, "type": "quantitative"},
 "y": {"datum": 24.2, "type": "quantitative"},
 "text": {"field": "lab", "type": "nominal"}
 }}
]
}
}
